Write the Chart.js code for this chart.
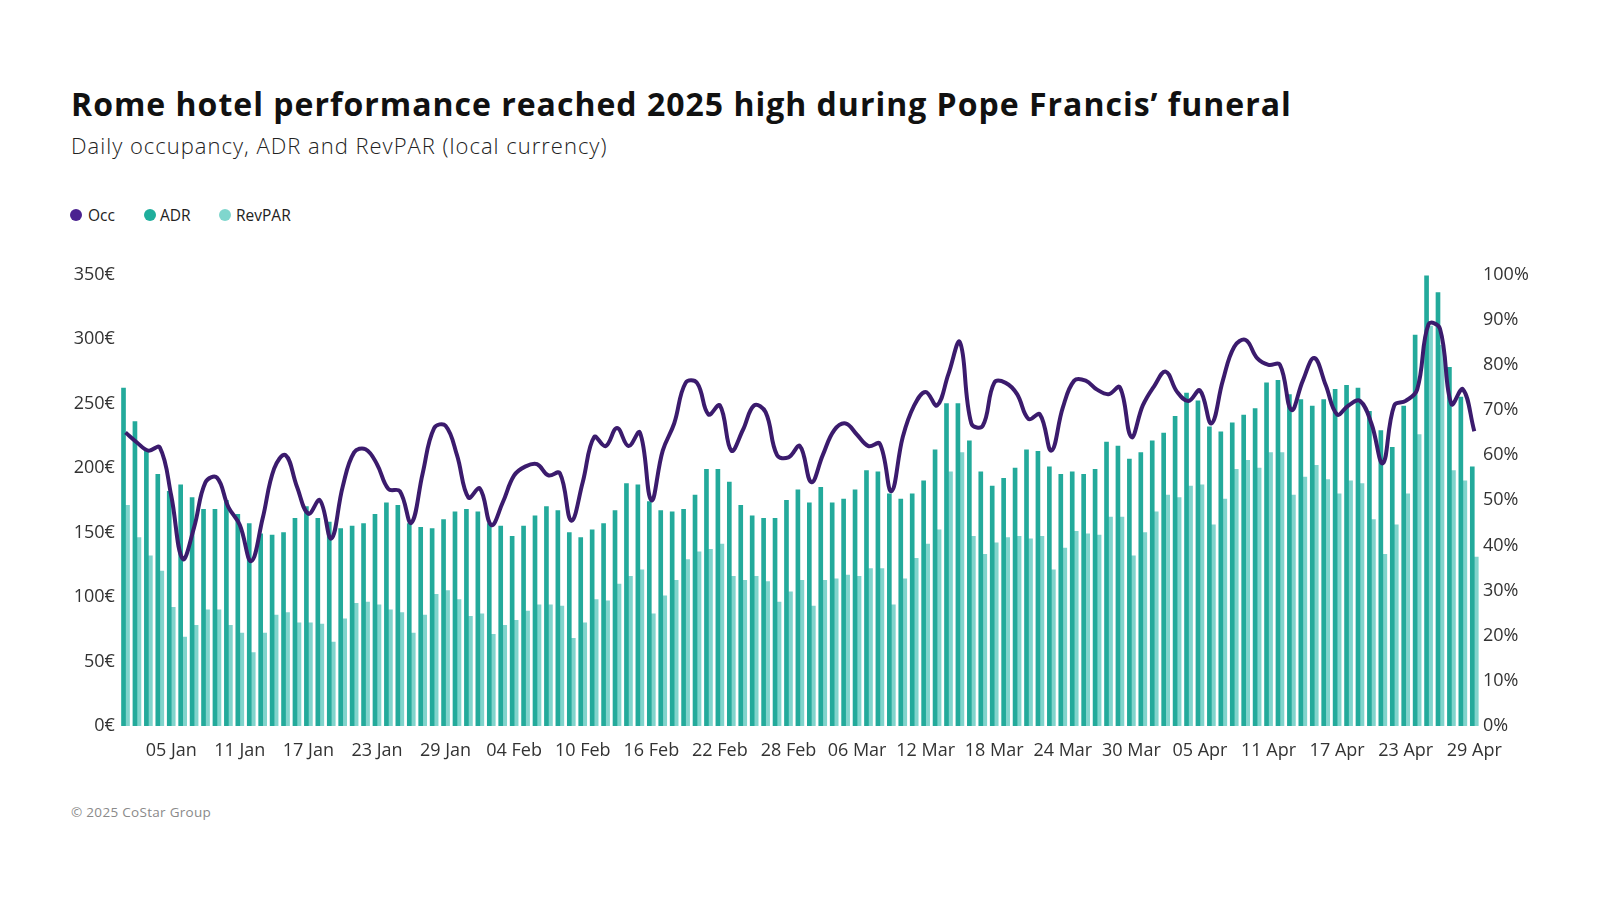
<!DOCTYPE html>
<html>
<head>
<meta charset="utf-8">
<script src="https://cdn.jsdelivr.net/npm/chart.js@4"></script>
<style>
  html, body { margin: 0; padding: 0; background: #fff; }
  body { width: 1600px; height: 900px; position: relative; overflow: hidden; font-family: 'Open Sans', sans-serif; }
  .title { position: absolute; left: 71px; top: 88px; font-size: 32px; line-height: 32px; font-weight: 700; letter-spacing: 1px; color: #111; white-space: nowrap; }
  .subtitle { position: absolute; left: 71px; top: 134px; font-size: 22px; line-height: 22px; font-weight: 300; letter-spacing: 1px; color: #222; white-space: nowrap; }
  .legend { position: absolute; top: 205px; left: 70px; height: 20px; font-size: 15.5px; color: #222; }
  .legend span { position: absolute; top: 0; line-height: 20px; white-space: nowrap; }
  .legend i { position: absolute; top: 4px; width: 12px; height: 12px; border-radius: 50%; }
  .footer { position: absolute; left: 71px; top: 803px; font-size: 13.5px; line-height: 18px; letter-spacing: 0.3px; color: #8a8a8a; }
  #wrap { position: absolute; left: 0; top: 250px; width: 1600px; height: 516px; }
</style>
</head>
<body>
<div class="title">Rome hotel performance reached 2025 high during Pope Francis’ funeral</div>
<div class="subtitle">Daily occupancy, ADR and RevPAR (local currency)</div>
<div class="legend">
  <i style="left:0px;background:#4a2290"></i><span style="left:18px">Occ</span>
  <i style="left:74px;background:#1fae9c"></i><span style="left:90px">ADR</span>
  <i style="left:149px;background:#7fd6cd"></i><span style="left:166px">RevPAR</span>
</div>
<div class="footer">© 2025 CoStar Group</div>
<div id="wrap"><canvas id="chart"></canvas></div>

<script>
// --- Data (1 Jan – 29 Apr 2025, daily) ---
const monthNames = ['Jan', 'Feb', 'Mar', 'Apr'];
const monthDays = [31, 28, 31, 29];

const adr = [
  262, 236, 214, 195, 182, 187, 177, 168, 168, 175, 164, 157, 149, 148, 150, 161, 170, 161, 158, 153,
  155, 157, 164, 173, 171, 157, 154, 153, 160, 166, 168, 166, 157, 155, 147, 155, 163, 170, 167, 150,
  146, 152, 157, 167, 188, 187, 174, 167, 166, 168, 179, 199, 199, 189, 171, 163, 161, 161, 175, 183,
  173, 185, 173, 176, 183, 198, 197, 180, 176, 180, 190, 214, 250, 250, 221, 197, 186, 192, 200, 214,
  213, 201, 195, 197, 195, 199, 220, 217, 207, 212, 221, 227, 240, 258, 252, 232, 228, 235, 241, 246,
  266, 268, 257, 253, 248, 253, 261, 264, 262, 244, 229, 216, 248, 303, 349, 336, 278, 255, 201
];

const revpar = [
  171, 146, 132, 120, 92, 69, 78, 90, 90, 78, 72, 57, 72, 86, 88, 80, 80, 79, 65, 83,
  95, 96, 94, 90, 88, 72, 86, 102, 105, 98, 85, 87, 71, 78, 82, 89, 94, 94, 93, 68,
  80, 98, 97, 110, 116, 121, 87, 101, 113, 129, 135, 137, 141, 116, 113, 116, 112, 96, 104, 113,
  93, 113, 114, 117, 116, 122, 122, 94, 114, 130, 141, 152, 197, 212, 147, 133, 142, 146, 147, 145,
  147, 121, 138, 151, 149, 148, 162, 162, 132, 150, 166, 179, 177, 186, 187, 156, 176, 199, 206, 200,
  212, 212, 179, 193, 202, 191, 180, 190, 188, 160, 133, 156, 180, 226, 310, 295, 198, 190, 131
];

const occ = [
  65, 62.8, 61, 61.7, 51, 37, 44, 54, 55, 48.5, 44.5, 36.5, 46, 57, 60, 53, 47, 50, 41.5, 53,
  60.6, 61.3, 58, 52.5, 52, 45, 56, 66, 66.5, 60, 50.6, 52.6, 44.5, 49.5, 55.5, 57.5, 58, 55.5, 56, 45.5,
  54, 64, 62, 66, 62, 65, 50, 61, 67, 76, 76, 69, 71, 61, 65.5, 71, 69.5, 60, 59.5, 62,
  54, 60, 65.5, 67, 64.5, 62, 62.5, 52, 64, 71, 74, 71, 78, 85, 67, 66.5, 76, 76, 73.5, 68,
  69, 61, 70.5, 76.5, 76.5, 74.5, 73.5, 75, 64, 71, 75.3, 78.5, 74, 72, 74.3, 67, 76.5, 84, 85.5, 81.5,
  80, 80, 70, 76.5, 81.5, 75.5, 69, 71, 72, 67, 58.2, 71, 72, 74.5, 89, 88, 71.3, 74.6, 65.3
];

const eurTicks = [0, 50, 100, 150, 200, 250, 300, 350];
const pctTicks = [0, 10, 20, 30, 40, 50, 60, 70, 80, 90, 100];

// category labels "01 Jan" ... "29 Apr"
const labels = [];
monthNames.forEach((m, mi) => {
  for (let d = 1; d <= monthDays[mi]; d++) {
    labels.push(String(d).padStart(2, '0') + ' ' + m);
  }
});

// --- Chart ---
const tickFont = { family: "'Open Sans', sans-serif", size: 18 };
const tickColor = '#333';

new Chart(document.getElementById('chart'), {
  data: {
    labels: labels,
    datasets: [
      {
        type: 'line',
        label: 'Occ',
        data: occ,
        yAxisID: 'y1',
        borderColor: '#3b1b6d',
        borderWidth: 4,
        pointRadius: 0,
        tension: 0.4,
        order: 0
      },
      {
        type: 'bar',
        label: 'ADR',
        data: adr,
        yAxisID: 'y',
        backgroundColor: '#23aa9b',
        barThickness: 4,
        order: 1
      },
      {
        type: 'bar',
        label: 'RevPAR',
        data: revpar,
        yAxisID: 'y',
        backgroundColor: '#80d4cc',
        barThickness: 4,
        order: 1
      }
    ]
  },
  options: {
    responsive: true,
    maintainAspectRatio: false,
    animation: false,
    layout: { padding: { top: 24.5, left: 0, right: 0, bottom: 0 } },
    plugins: {
      legend: { display: false },
      tooltip: { enabled: false }
    },
    scales: {
      x: {
        grid: { display: false, drawTicks: false },
        border: { display: false },
        ticks: {
          autoSkip: false,
          maxRotation: 0,
          padding: 14,
          color: tickColor,
          font: tickFont,
          callback: (v, i) => ((i - 4) % 6 === 0 ? labels[i] : '')
        },
        afterFit: (s) => { s.height = 40; }
      },
      y: {
        position: 'left',
        min: eurTicks[0],
        max: eurTicks[eurTicks.length - 1],
        grid: { display: false, drawTicks: false },
        border: { display: false },
        afterBuildTicks: (s) => { s.ticks = eurTicks.map(v => ({ value: v })); },
        ticks: {
          padding: 5,
          color: tickColor,
          font: tickFont,
          callback: (v) => v + '€'
        },
        afterFit: (s) => { s.width = 119.8; }
      },
      y1: {
        position: 'right',
        min: pctTicks[0],
        max: pctTicks[pctTicks.length - 1],
        grid: { display: false, drawTicks: false },
        border: { display: false },
        afterBuildTicks: (s) => { s.ticks = pctTicks.map(v => ({ value: v })); },
        ticks: {
          padding: 3,
          color: tickColor,
          font: tickFont,
          callback: (v) => v + '%'
        },
        afterFit: (s) => { s.width = 120; }
      }
    }
  }
});
</script>
</body>
</html>
